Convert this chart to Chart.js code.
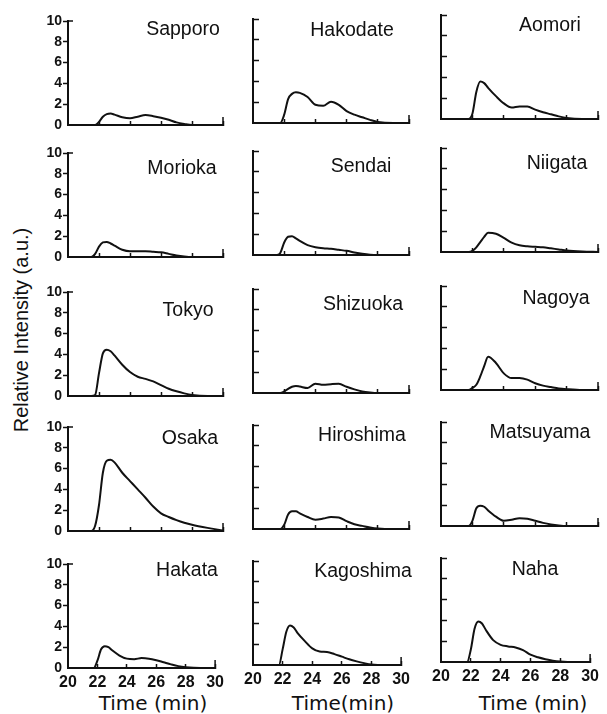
<!DOCTYPE html>
<html>
<head>
<meta charset="utf-8">
<script src="https://cdn.jsdelivr.net/npm/chart.js@4.4.1/dist/chart.umd.min.js"></script>
<style>
  body { margin: 0; background: #fff; }
  #fig { position: relative; width: 607px; height: 714px; overflow: hidden; background: #fff; }
  #fig canvas { position: absolute; }
  .lbl { position: absolute; color: #111; white-space: nowrap; transform: translate(-50%, -50%); }
  #ytitle { font: 20px "Liberation Sans", Arial, sans-serif; transform: translate(-50%, -50%) rotate(-90deg); }
  .xtitle { font: 20px "DejaVu Sans", sans-serif; }
</style>
</head>
<body>
<div id="fig">
  <div class="lbl" id="ytitle" style="left:21px; top:330px;">Relative Intensity (a.u.)</div>
  <div class="lbl xtitle" style="left:153px; top:703px;">Time (min)</div>
  <div class="lbl xtitle" style="left:343px; top:703px;">Time(min)</div>
  <div class="lbl xtitle" style="left:533px; top:703px;">Time (min)</div>
</div>
<script>
"use strict";

// retention time (min), shared by all cities
const times = [20, 21, 21.5, 21.75, 22, 22.25, 22.5, 22.75, 23, 23.5, 24, 24.5, 25, 25.5, 26, 26.5, 27, 27.5, 28, 29, 30];

// relative intensity
const sapporo   = [0, 0, 0, 0, 0.3, 0.8, 1.05, 1.1, 1.0, 0.75, 0.65, 0.8, 0.95, 0.85, 0.7, 0.5, 0.25, 0.1, 0, 0, 0];
const hakodate  = [0, 0, 0, 0, 0.8, 2.3, 2.8, 2.95, 2.9, 2.5, 1.75, 1.65, 2.05, 1.75, 1.15, 0.8, 0.55, 0.3, 0.1, 0, 0];
const aomori    = [0, 0, 0, 0, 0.5, 2.6, 3.6, 3.45, 3.0, 2.2, 1.5, 1.1, 1.2, 1.2, 0.9, 0.65, 0.45, 0.25, 0.1, 0, 0];
const morioka   = [0, 0, 0, 0.3, 1.0, 1.4, 1.45, 1.3, 1.1, 0.7, 0.55, 0.55, 0.55, 0.5, 0.45, 0.3, 0.15, 0.05, 0, 0, 0];
const sendai    = [0, 0, 0, 0.2, 1.2, 1.75, 1.8, 1.6, 1.35, 0.95, 0.75, 0.65, 0.6, 0.5, 0.4, 0.25, 0.12, 0.03, 0, 0, 0];
const niigata   = [0, 0, 0, 0, 0.1, 0.45, 0.95, 1.45, 1.85, 1.75, 1.35, 0.9, 0.65, 0.55, 0.5, 0.45, 0.35, 0.25, 0.15, 0.05, 0];
const tokyo     = [0, 0, 0, 0.1, 2.2, 4.1, 4.45, 4.3, 3.9, 3.0, 2.3, 1.85, 1.65, 1.4, 1.05, 0.7, 0.45, 0.25, 0.1, 0, 0];
const shizuoka  = [0, 0, 0, 0, 0.15, 0.4, 0.6, 0.68, 0.62, 0.48, 0.9, 0.8, 0.85, 0.88, 0.6, 0.35, 0.15, 0.05, 0, 0, 0];
const nagoya    = [0, 0, 0, 0, 0.2, 0.5, 1.3, 2.3, 3.2, 2.6, 1.6, 1.15, 1.15, 1.0, 0.65, 0.42, 0.28, 0.15, 0.08, 0, 0];
const osaka     = [0, 0, 0, 0.5, 2.5, 5.6, 6.75, 6.85, 6.6, 5.6, 4.8, 4.0, 3.2, 2.35, 1.7, 1.35, 1.05, 0.8, 0.6, 0.3, 0.05];
const hiroshima = [0, 0, 0, 0, 0.4, 1.4, 1.7, 1.7, 1.5, 1.15, 0.9, 1.0, 1.15, 1.1, 0.75, 0.45, 0.3, 0.15, 0.05, 0, 0];
const matsuyama = [0, 0, 0, 0, 0.5, 1.7, 1.95, 1.85, 1.5, 0.9, 0.5, 0.6, 0.75, 0.7, 0.5, 0.3, 0.15, 0.05, 0, 0, 0];
const hakata    = [0, 0, 0, 0, 0.7, 1.8, 2.1, 2.0, 1.7, 1.2, 0.9, 0.85, 0.95, 0.9, 0.75, 0.55, 0.35, 0.18, 0.08, 0, 0];
const kagoshima = [0, 0, 0, 0, 1.5, 3.2, 3.8, 3.6, 3.1, 2.3, 1.6, 1.3, 1.25, 1.05, 0.8, 0.55, 0.35, 0.18, 0.05, 0, 0];
const naha      = [0, 0, 0, 0, 1.2, 3.2, 3.9, 3.7, 3.1, 2.1, 1.65, 1.5, 1.4, 1.15, 0.7, 0.45, 0.27, 0.13, 0.05, 0, 0];

const cities = ["Sapporo", "Hakodate", "Aomori", "Morioka", "Sendai", "Niigata", "Tokyo", "Shizuoka", "Nagoya",
                "Osaka", "Hiroshima", "Matsuyama", "Hakata", "Kagoshima", "Naha"];
const series = [sapporo, hakodate, aomori, morioka, sendai, niigata, tokyo, shizuoka, nagoya,
                osaka, hiroshima, matsuyama, hakata, kagoshima, naha];

const xTicks = [20, 22, 24, 26, 28, 30];
const yTicks = [0, 2, 4, 6, 8, 10];

// layout of the scanned figure (plot boxes are a bit skewed)
const plotLeft = [68, 253, 441];
const plotWidth = [155, 156, 157];
const plotHeight = 104;
const rowTops = [[21, 19, 15], [153, 151, 148], [292, 289, 286], [427, 425, 422], [564, 561, 558]];
// city name: centre from plot left, cap top from plot top
const namePos = [[115, 0], [99, 3], [109, 2], [114, 7], [108, 7], [116, 7], [120, 10], [110, 7], [115, 4],
                 [122, 3], [109, 2], [99, 2], [119, -2], [110, 2], [94, 3]];

const ink = "#111";
const clear = "rgba(0,0,0,0)";
const tickFont = { family: "'Liberation Sans Narrow', 'Liberation Sans', Arial, sans-serif", weight: "bold" };

// draws the city name inside the plot
const cityLabel = {
    id: "cityLabel",
    afterDraw(chart, args, opts) {
        const { ctx, chartArea } = chart;
        ctx.save();
        ctx.font = "19.5px 'Liberation Sans', Arial, sans-serif";
        ctx.fillStyle = ink;
        ctx.textAlign = "center";
        ctx.textBaseline = "alphabetic";
        ctx.fillText(opts.text, chartArea.left + opts.dx, chartArea.top + opts.dy + 14);
        ctx.restore();
    }
};

// taller end tick at 30 min, and the short inward hook at the top of the first column
const axisHooks = {
    id: "axisHooks",
    afterDraw(chart, args, opts) {
        const { ctx, scales: { x, y } } = chart;
        ctx.save();
        ctx.strokeStyle = ink;
        ctx.lineWidth = 1.5;
        ctx.beginPath();
        const xEnd = x.getPixelForValue(30);
        const yZero = y.getPixelForValue(0);
        ctx.moveTo(xEnd, yZero);
        ctx.lineTo(xEnd, yZero - 8);
        if (opts.topHook) {
            const xStart = x.getPixelForValue(20);
            const yTop = y.getPixelForValue(10);
            ctx.moveTo(xStart, yTop);
            ctx.lineTo(xStart + 5, yTop);
        }
        ctx.stroke();
        ctx.restore();
    }
};

const fig = document.getElementById("fig");
const L = 36, T = 10, R = 10;

cities.forEach((name, i) => {
    const row = Math.floor(i / 3);
    const col = i % 3;
    const bottomRow = row === 4;
    const B = bottomRow ? 28 : 10; // keep >= half a tick label so the plot is not squeezed
    const w = plotWidth[col];

    const canvas = document.createElement("canvas");
    canvas.width = L + w + R;
    canvas.height = T + plotHeight + B;
    canvas.style.left = (plotLeft[col] - L) + "px";
    canvas.style.top = (rowTops[row][col] - T) + "px";
    fig.appendChild(canvas);

    new Chart(canvas, {
        type: "line",
        data: {
            datasets: [{
                data: times.map((t, k) => ({ x: t, y: series[i][k] })),
                borderColor: ink,
                borderWidth: 2,
                pointRadius: 0,
                cubicInterpolationMode: "monotone",
                fill: false
            }]
        },
        options: {
            responsive: false,
            maintainAspectRatio: false,
            animation: false,
            devicePixelRatio: 1,
            layout: { autoPadding: false, padding: { top: T, right: R, left: 0, bottom: 0 } },
            plugins: {
                legend: { display: false },
                tooltip: { enabled: false },
                cityLabel: { text: name, dx: namePos[i][0], dy: namePos[i][1] },
                axisHooks: { topHook: col === 0 }
            },
            scales: {
                x: {
                    type: "linear",
                    min: 20,
                    max: 30,
                    afterBuildTicks: s => { s.ticks = xTicks.map(v => ({ value: v })); },
                    afterFit: s => { s.height = B; },
                    border: { display: true, color: ink, width: 2 },
                    grid: {
                        drawOnChartArea: false,
                        tickLength: -4,
                        tickWidth: 1.5,
                        tickColor: c => (c.tick && c.tick.value === 20) ? clear : ink
                    },
                    ticks: {
                        display: bottomRow,
                        padding: 9,
                        color: ink,
                        maxRotation: 0,
                        autoSkip: false,
                        font: { ...tickFont, size: 16 }
                    }
                },
                y: {
                    min: 0,
                    max: 10,
                    afterBuildTicks: s => { s.ticks = yTicks.map(v => ({ value: v })); },
                    afterFit: s => { s.width = L; },
                    border: { display: true, color: ink, width: 2 },
                    grid: {
                        drawOnChartArea: false,
                        tickLength: col === 0 ? 5 : -6,
                        tickWidth: 1.5,
                        tickColor: c => (c.tick && c.tick.value === 0) ? clear : ink
                    },
                    ticks: {
                        display: col === 0,
                        padding: 1,
                        color: ink,
                        autoSkip: false,
                        font: { ...tickFont, size: 14 }
                    }
                }
            }
        },
        plugins: [cityLabel, axisHooks]
    });
});
</script>
</body>
</html>
